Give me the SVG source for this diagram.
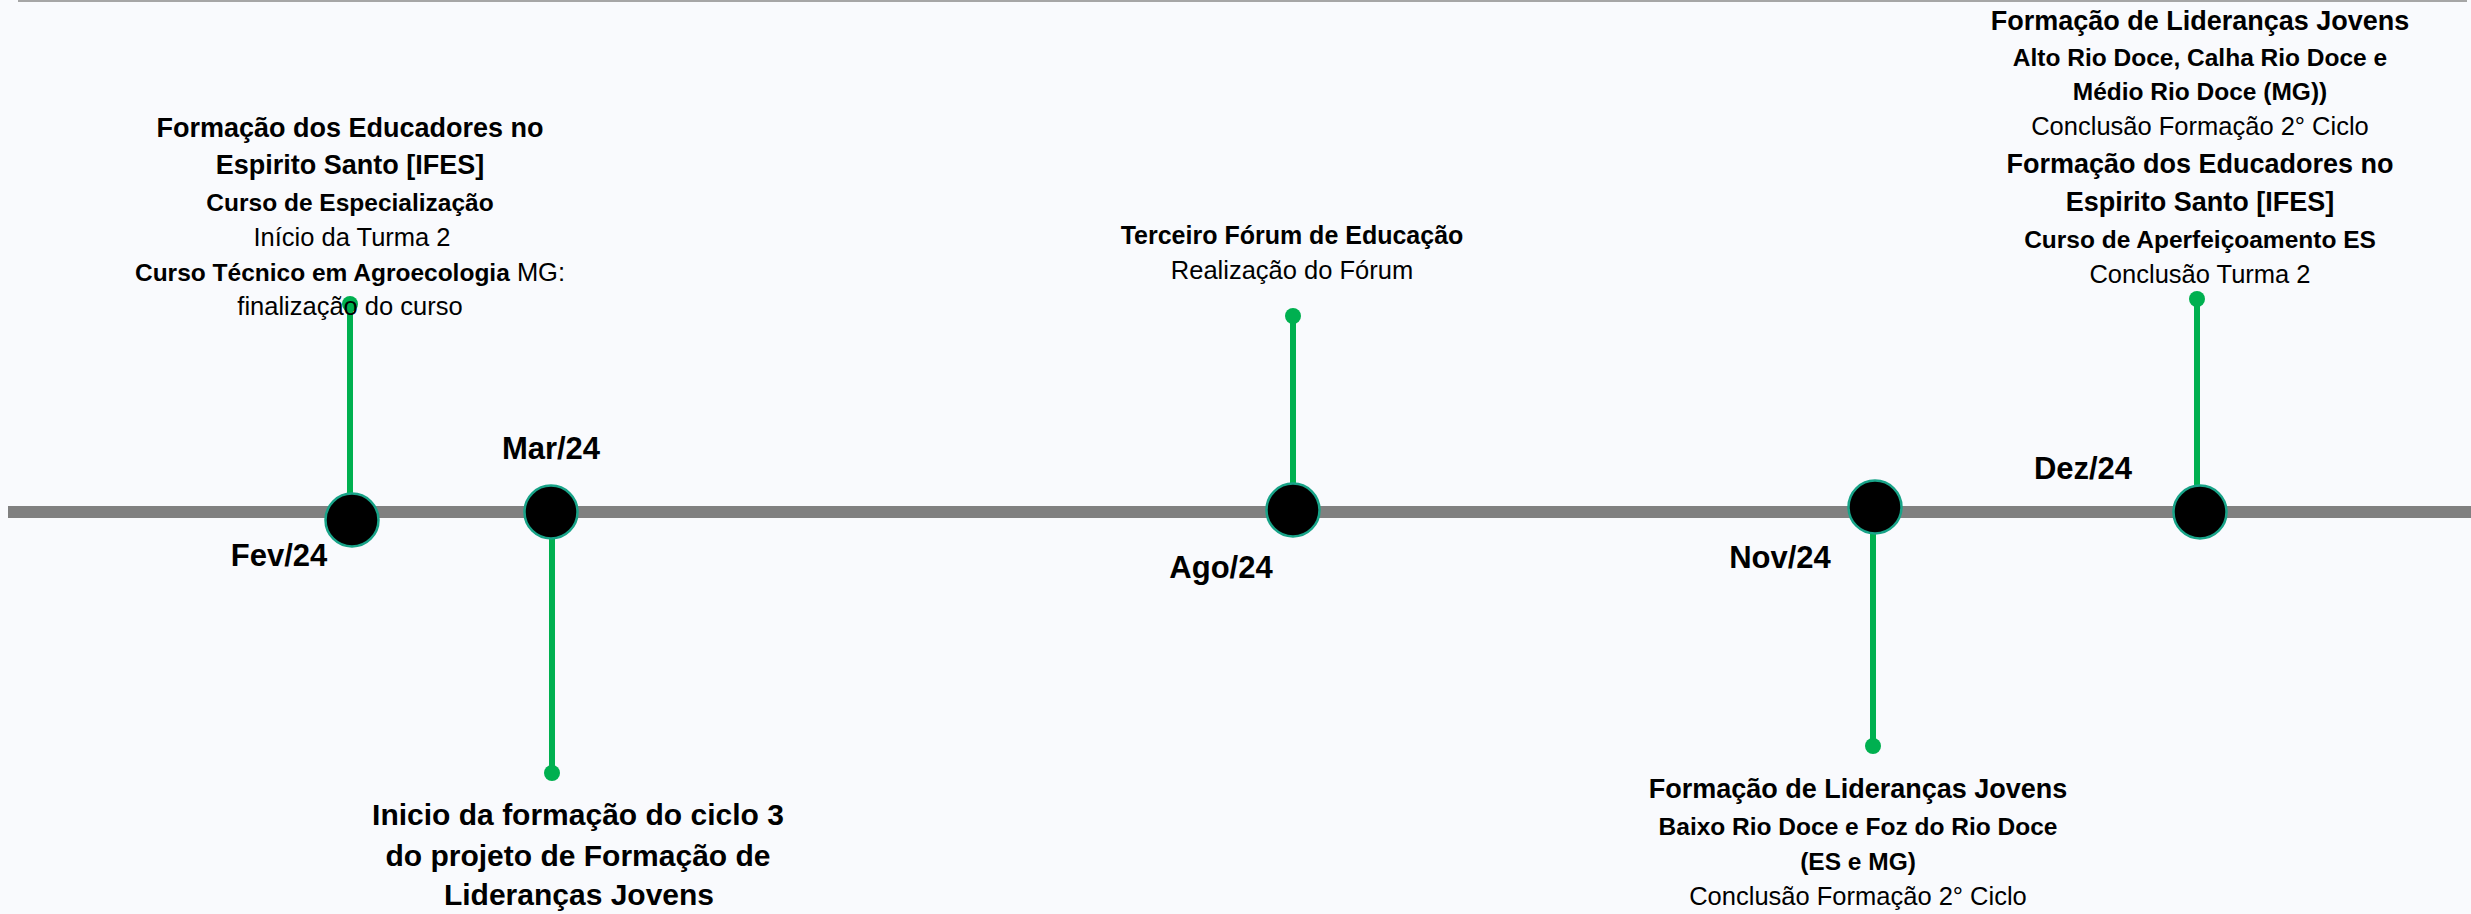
<svg xmlns="http://www.w3.org/2000/svg" width="2471" height="914" viewBox="0 0 2471 914">
  <style>
    text { font-family: "Liberation Sans", Arial, sans-serif; fill: #000; text-anchor: middle; }
    .h { font-weight: bold; font-size: 27px; }
    .m { font-weight: bold; font-size: 24.5px; }
    .r { font-weight: normal; font-size: 25.5px; }
    .mo { font-weight: bold; font-size: 31px; }
    .big { font-weight: bold; font-size: 30px; }
    .stem { stroke: #00b050; stroke-width: 6; fill: none; }
    .dot { fill: #00b050; }
    .node { fill: #000; stroke: #18a388; stroke-width: 2.5; }
  </style>
  <rect x="0" y="0" width="2471" height="914" fill="#f9fafd"/>
  <line x1="18" y1="1" x2="2467" y2="1" stroke="#a6a6a6" stroke-width="2"/>
  <g id="timeline">
    <rect x="8" y="506" width="2463" height="12" fill="#808080"/>
  </g>
  <g id="connectors">
    <line class="stem" x1="350" y1="304" x2="350" y2="496"/>
    <circle class="dot" cx="350" cy="304" r="8"/>
    <line class="stem" x1="552" y1="537" x2="552" y2="773"/>
    <circle class="dot" cx="552" cy="773" r="8"/>
    <line class="stem" x1="1293" y1="316" x2="1293" y2="486"/>
    <circle class="dot" cx="1293" cy="316" r="8"/>
    <line class="stem" x1="1873" y1="531" x2="1873" y2="746"/>
    <circle class="dot" cx="1873" cy="746" r="8"/>
    <line class="stem" x1="2197" y1="299" x2="2197" y2="488"/>
    <circle class="dot" cx="2197" cy="299" r="8"/>
  </g>
  <g id="fev24">
    <circle class="node" cx="352" cy="520" r="26.5"/>
    <text class="mo" x="279" y="566">Fev/24</text>
    <text class="h" x="350" y="137">Formação dos Educadores no</text>
    <text class="h" x="350" y="174">Espirito Santo [IFES]</text>
    <text class="m" x="350" y="211">Curso de Especialização</text>
    <text class="r" x="352" y="246">Início da Turma 2</text>
    <text x="350" y="281"><tspan class="m">Curso Técnico em Agroecologia</tspan><tspan class="r"> MG:</tspan></text>
    <text class="r" x="350" y="315">finalização do curso</text>
  </g>
  <g id="mar24">
    <circle class="node" cx="551" cy="512" r="26.5"/>
    <text class="mo" x="551" y="459">Mar/24</text>
    <text class="big" x="578" y="825">Inicio da formação do ciclo 3</text>
    <text class="big" x="578" y="866">do projeto de Formação de</text>
    <text class="big" x="579" y="905">Lideranças Jovens</text>
  </g>
  <g id="ago24">
    <circle class="node" cx="1293" cy="510" r="26.5"/>
    <text class="mo" x="1221" y="578">Ago/24</text>
    <text x="1292" y="244" style="font-weight:bold;font-size:25px">Terceiro Fórum de Educação</text>
    <text class="r" x="1292" y="279">Realização do Fórum</text>
  </g>
  <g id="nov24">
    <circle class="node" cx="1875" cy="507" r="26.5"/>
    <text class="mo" x="1780" y="568">Nov/24</text>
    <text class="h" x="1858" y="798">Formação de Lideranças Jovens</text>
    <text class="m" x="1858" y="835">Baixo Rio Doce e Foz do Rio Doce</text>
    <text class="m" x="1858" y="870">(ES e MG)</text>
    <text class="r" x="1858" y="905">Conclusão Formação 2° Ciclo</text>
  </g>
  <g id="dez24">
    <circle class="node" cx="2200" cy="512" r="26.5"/>
    <text class="mo" x="2083" y="479">Dez/24</text>
    <text class="h" x="2200" y="30">Formação de Lideranças Jovens</text>
    <text class="m" x="2200" y="66">Alto Rio Doce, Calha Rio Doce e</text>
    <text class="m" x="2200" y="100">Médio Rio Doce (MG))</text>
    <text class="r" x="2200" y="135">Conclusão Formação 2° Ciclo</text>
    <text class="h" x="2200" y="173">Formação dos Educadores no</text>
    <text class="h" x="2200" y="211">Espirito Santo [IFES]</text>
    <text class="m" x="2200" y="248">Curso de Aperfeiçoamento ES</text>
    <text class="r" x="2200" y="283">Conclusão Turma 2</text>
  </g>
</svg>
